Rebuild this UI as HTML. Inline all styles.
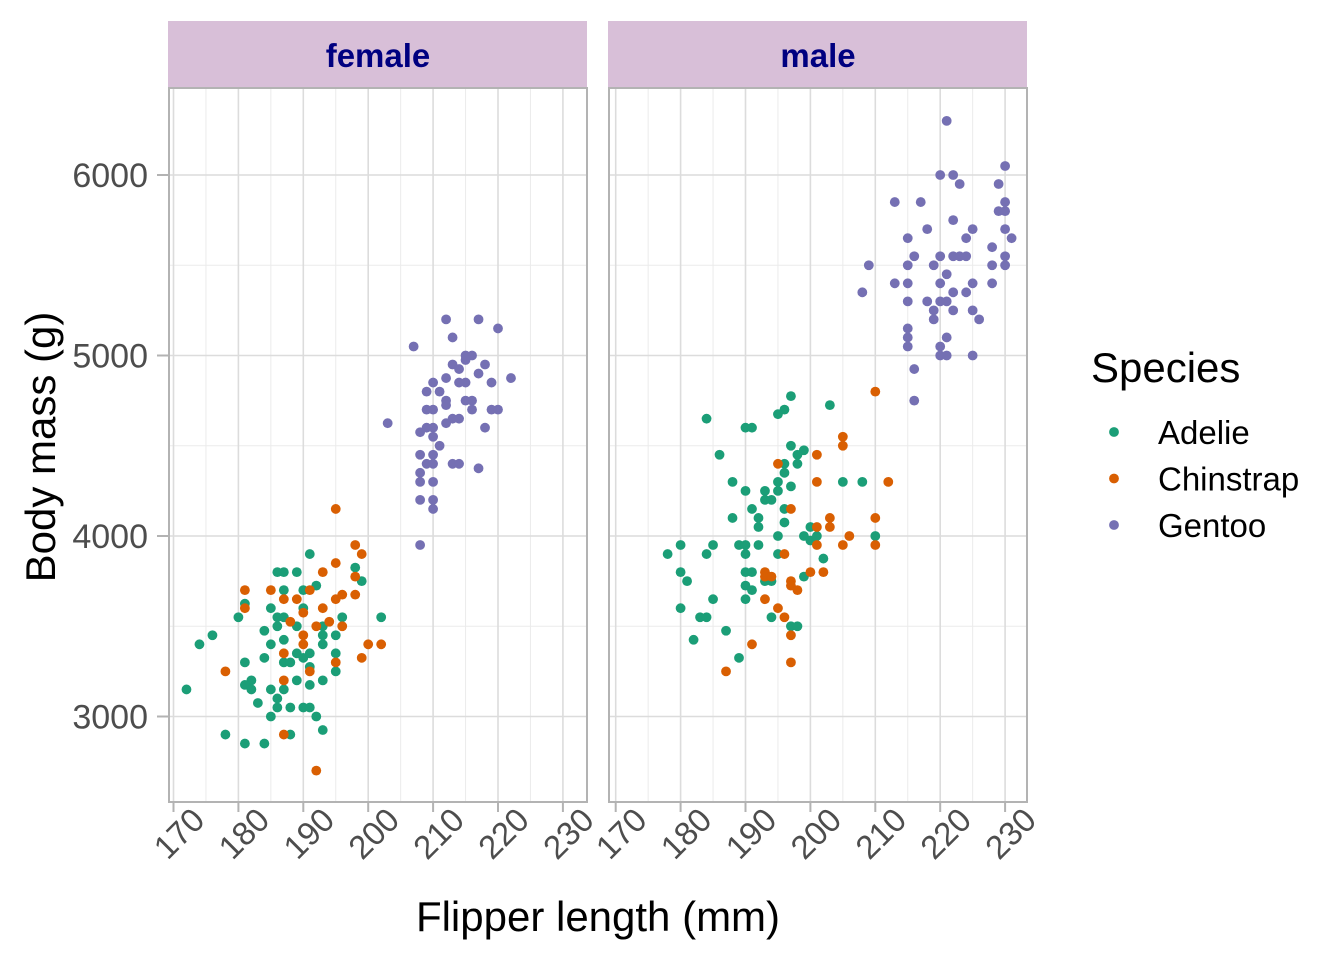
<!DOCTYPE html>
<html><head><meta charset="utf-8"><style>
body{margin:0;background:#fff;}
svg{display:block;font-family:"Liberation Sans",sans-serif;}
</style></head><body>
<svg id="chart" width="1344" height="960"></svg>
<script>
const panels = ["female","male"];
const speciesNames = ["Adelie","Chinstrap","Gentoo"];
const speciesColors = ["#1B9E77","#D95F02","#7570B3"];
const xTicks = [170,180,190,200,210,220,230];
const yTicks = [3000,4000,5000,6000];
// female data
const fAdelieX = [191,186,187,189,198,199,187,190,192,181,185,190,180,186,187,196,202,186,189,193,184,176,187,193,195,174,185,193,189,190,191,195,184,181,187,188,191,195,182,181,182,189,191,193,172,185,187,183,186,186,188,190,191,185,192,193,178,188,181,184];
const fAdelieY = [3900,3800,3800,3800,3825,3750,3700,3700,3725,3625,3600,3600,3550,3550,3550,3550,3550,3500,3500,3500,3475,3450,3425,3450,3450,3400,3400,3400,3350,3325,3350,3350,3325,3300,3300,3300,3275,3250,3200,3175,3150,3200,3175,3200,3150,3150,3150,3075,3100,3050,3050,3050,3050,3000,3000,2925,2900,2900,2850,2850];
const fChinX = [195,198,199,195,193,198,181,185,191,187,189,195,196,198,181,190,193,188,194,192,196,190,190,200,202,187,199,195,191,178,187,187,192];
const fChinY = [4150,3950,3900,3850,3800,3775,3700,3700,3700,3650,3650,3650,3675,3675,3600,3575,3600,3525,3525,3500,3500,3450,3400,3400,3400,3350,3325,3300,3250,3250,3200,2900,2700];
const fGentooX = [212,217,220,213,207,215,216,215,213,214,218,217,212,210,214,215,219,222,209,211,212,212,215,216,216,209,210,219,220,203,212,213,214,218,209,210,208,210,211,208,210,209,210,213,214,217,208,208,210,208,210,210,208];
const fGentooY = [5200,5200,5150,5100,5050,5000,5000,4975,4950,4925,4950,4900,4875,4850,4850,4850,4850,4875,4800,4800,4750,4725,4750,4750,4700,4700,4700,4700,4700,4625,4625,4650,4650,4600,4600,4600,4575,4550,4500,4450,4450,4400,4400,4400,4400,4375,4350,4300,4300,4200,4200,4150,3950];
// male data
const mAdelieX = [197,203,196,195,184,190,191,197,199,198,186,196,198,196,188,195,205,208,197,190,193,195,193,194,191,196,188,192,192,196,200,195,199,200,201,210,180,185,189,190,192,178,184,190,195,202,180,190,191,181,193,194,199,190,191,185,190,180,183,184,194,197,198,187,182,189];
const mAdelieY = [4775,4725,4700,4675,4650,4600,4600,4500,4475,4450,4450,4400,4400,4350,4300,4300,4300,4300,4275,4250,4250,4250,4200,4200,4150,4150,4100,4100,4050,4075,4050,4000,4000,3975,4000,4000,3950,3950,3950,3950,3950,3900,3900,3900,3900,3875,3800,3800,3800,3750,3750,3750,3775,3725,3700,3650,3650,3600,3550,3550,3550,3500,3500,3475,3425,3325];
const mChinX = [210,205,205,201,195,201,212,197,203,210,201,203,206,201,205,210,196,200,202,193,193,194,197,197,198,193,195,196,197,191,197,187];
const mChinY = [4800,4550,4500,4450,4400,4300,4300,4150,4100,4100,4050,4050,4000,3950,3950,3950,3900,3800,3800,3800,3775,3775,3750,3725,3700,3650,3600,3550,3450,3400,3300,3250];
const mGentooX = [221,230,220,222,223,229,213,217,230,229,230,222,218,225,230,215,224,231,228,216,220,222,223,224,230,209,215,219,228,230,221,213,215,220,225,228,208,222,224,215,218,220,221,219,222,225,226,219,215,215,215,221,220,220,221,225,216,216];
const mGentooY = [6300,6050,6000,6000,5950,5950,5850,5850,5850,5800,5800,5750,5700,5700,5700,5650,5650,5650,5600,5550,5550,5550,5550,5550,5550,5500,5500,5500,5500,5500,5450,5400,5400,5400,5400,5400,5350,5350,5350,5300,5300,5300,5300,5250,5250,5250,5200,5200,5150,5100,5050,5100,5050,5000,5000,5000,4925,4750];

const svg = document.getElementById('chart');
const NS = "http://www.w3.org/2000/svg";
function mk(tag, attrs, parent){const e=document.createElementNS(NS,tag);for(const k in attrs)e.setAttribute(k,attrs[k]);(parent||svg).appendChild(e);return e;}

const panelLeft=[169,609], panelW=418, pTop=88, pBot=802;
const x0px=[173.5,615.7], pxPerMm=6.49;
function xS(p,v){return x0px[p]+(v-170)*pxPerMm;}
function yS(v){return 536-(v-4000)*0.1805;}

const data = [
  [[fAdelieX,fAdelieY],[fChinX,fChinY],[fGentooX,fGentooY]],
  [[mAdelieX,mAdelieY],[mChinX,mChinY],[mGentooX,mGentooY]]
];

panels.forEach((name,p)=>{
  const L=panelLeft[p];
  const g=mk('g',{});
  
  
  const strip=mk('rect',{x:L-1,y:21,width:panelW+1,height:67,fill:'#D8BFD8'},g);
  
  
  const st=mk('text',{x:L+panelW/2,y:67,'text-anchor':'middle','font-size':'33','font-weight':'bold',fill:'#000080'},g);
  st.textContent=name;
  
  
  for(let v=175;v<=235;v+=10){const x=xS(p,v);if(x<L||x>L+panelW)continue;mk('line',{x1:x,x2:x,y1:pTop,y2:pBot,stroke:'#ebebeb','stroke-width':1},g);}
  for(let v=2500;v<=6500;v+=1000){const y=yS(v);if(y<pTop||y>pBot)continue;mk('line',{x1:L,x2:L+panelW,y1:y,y2:y,stroke:'#ebebeb','stroke-width':1},g);}
  xTicks.forEach(v=>{const x=xS(p,v);mk('line',{x1:x,x2:x,y1:pTop,y2:pBot,stroke:'#dcdcdc','stroke-width':1.6},g);});
  yTicks.forEach(v=>{const y=yS(v);mk('line',{x1:L,x2:L+panelW,y1:y,y2:y,stroke:'#dcdcdc','stroke-width':1.6},g);});
  mk('rect',{x:L,y:pTop,width:panelW,height:pBot-pTop,fill:'none',stroke:'#b3b3b3','stroke-width':2},g);
  xTicks.forEach(v=>{const x=xS(p,v);
    mk('line',{x1:x,x2:x,y1:pBot,y2:pBot+10,stroke:'#b3b3b3','stroke-width':2},g);
    const ax=x+33, ay=pBot+20;
    const t=mk('text',{x:ax,y:ay,'text-anchor':'end','font-size':'33',fill:'#4d4d4d',transform:`rotate(-45 ${ax} ${ay})`},g);
    t.textContent=v;
    
    
  });
  data[p].forEach((s,si)=>{
    const xs=s[0], ys=s[1];
    for(let i=0;i<xs.length;i++){
      const c=mk('circle',{cx:xS(p,xs[i]),cy:yS(ys[i]),r:4.9,fill:speciesColors[si]},g);
      
      
    }
  });
});
yTicks.forEach(v=>{const y=yS(v);
  mk('line',{x1:157,x2:169,y1:y,y2:y,stroke:'#b3b3b3','stroke-width':2});
  const t=mk('text',{x:148,y:y+12,'text-anchor':'end','font-size':'34',fill:'#4d4d4d'});
  t.textContent=v;
  
  
});
const yt=mk('text',{x:55,y:447,'text-anchor':'middle','font-size':'42',fill:'#000',transform:'rotate(-90 55 447)'});
yt.textContent='Body mass (g)';


const xt=mk('text',{x:598,y:931,'text-anchor':'middle','font-size':'42',fill:'#000'});
xt.textContent='Flipper length (mm)';


const lg=mk('g',{});


const lt=mk('text',{x:1091,y:382,'font-size':'42',fill:'#000'},lg);
lt.textContent='Species';


speciesNames.forEach((n,i)=>{
  const y=432+i*46.5;
  const c=mk('circle',{cx:1114,cy:y,r:4.9,fill:speciesColors[i]},lg);
  
  
  const t=mk('text',{x:1158,y:y+12,'font-size':'33',fill:'#000'},lg);
  t.textContent=n;
  
  
});
</script>
</body></html>
